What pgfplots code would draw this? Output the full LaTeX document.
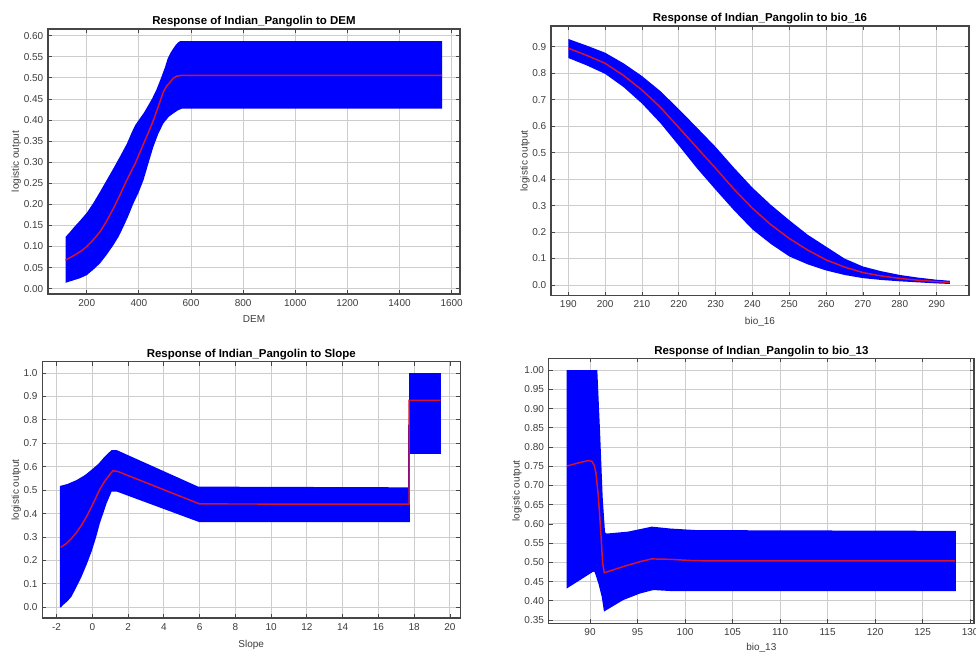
\documentclass[border=0pt]{standalone}
\usepackage{pgfplots}
\pgfplotsset{compat=1.18}
\usepackage{fontspec}
\setmainfont{Liberation Sans}
\definecolor{bandblue}{RGB}{0,0,255}
\definecolor{linered}{RGB}{215,20,45}
\definecolor{framegray}{RGB}{70,70,70}
\definecolor{gridgray}{RGB}{205,205,205}
\definecolor{textgray}{RGB}{60,60,60}
\pgfplotsset{
  resp/.style={
    scale only axis, anchor=south west,
    grid=major, major grid style={draw=gridgray, line width=0.7pt},
    axis line style={draw=framegray, line width=1pt},
    tick style={draw=framegray, line width=0.6pt},
    tick align=inside, major tick length=3pt,
    tick label style={font=\fontsize{7.5}{8}\selectfont, text=textgray},
    xticklabel style={text height=5.5pt, text depth=0pt},
    label style={font=\fontsize{7.5}{8}\selectfont, text=textgray},
    title style={font=\bfseries\fontsize{8.6}{10}\selectfont, at={(0.5,1)}, anchor=south, inner sep=1pt, yshift=-5.8pt},
    ylabel={logistic output},
    ylabel style={yshift=-4.8pt},
    xlabel style={yshift=-0.5pt},
    /pgf/number format/assume math mode=true,
    /pgf/number format/1000 sep={},
    clip=false,
  },
  band/.style={fill=bandblue, draw=none},
  mean/.style={draw=linered, line width=1.1pt, no marks},
}
\begin{document}
\begin{tikzpicture}
\useasboundingbox (0,0) rectangle (732pt,489pt);
% ---------- DEM ----------
\begin{axis}[resp, at={(36pt,268.5pt)}, width=309pt, height=198.75pt,
  xmin=51.4, xmax=1632, ymin=-0.0126, ymax=0.616,
  xtick={200,400,...,1600}, ytick={0,0.05,...,0.61},
  yticklabel style={/pgf/number format/.cd, fixed, fixed zerofill, precision=2},
  title={Response of Indian\_Pangolin to DEM}, xlabel={DEM}]
\addplot[band] coordinates {
 (119,0.123) (135,0.134) (150,0.145) (175,0.162) (200,0.180) (225,0.203) (251,0.230)
 (276,0.257) (302,0.285) (328,0.314) (354,0.344) (372,0.370) (386,0.388)
 (420,0.418) (450,0.450) (466,0.470) (482,0.495) (500,0.525) (510,0.545) (520,0.558)
 (530,0.568) (540,0.577) (550,0.584) (558,0.587) (1563,0.587)
 (1563,0.427) (565,0.427) (550,0.423) (533,0.416) (515,0.408) (494,0.392) (475,0.368)
 (456,0.337) (437,0.298) (418,0.258) (399,0.228) (379,0.202) (360,0.173)
 (341,0.147) (322,0.123) (302,0.103) (276,0.080) (251,0.060) (225,0.045) (200,0.032)
 (175,0.025) (150,0.020) (119,0.014)} -- cycle;
\addplot[mean] coordinates {
 (119,0.068) (140,0.075) (160,0.082) (180,0.090) (200,0.100) (225,0.116) (251,0.135)
 (276,0.160) (302,0.190) (328,0.223) (354,0.258) (386,0.297)
 (418,0.344) (437,0.371) (456,0.400) (475,0.433) (494,0.467) (507,0.481) (520,0.490)
 (532,0.499) (545,0.504) (565,0.506) (1563,0.506)};
\end{axis}
% ---------- bio_16 ----------
\begin{axis}[resp, at={(413.25pt,267.2pt)}, width=313.5pt, height=202.3pt,
  xmin=185.3, xmax=298.8, ymin=-0.0405, ymax=0.979,
  xtick={190,200,...,290}, ytick={0,0.1,...,0.91},
  yticklabel style={/pgf/number format/.cd, fixed, fixed zerofill, precision=1},
  title={Response of Indian\_Pangolin to bio\_16}, xlabel={bio\_16}]
\addplot[band] coordinates {
 (190,0.930) (195,0.905) (200,0.878) (205,0.838) (210,0.790) (215,0.733) (220,0.665)
 (225,0.594) (230,0.522) (235,0.443) (240,0.368) (245,0.303) (250,0.245) (255,0.190)
 (260,0.145) (265,0.100) (270,0.070) (275,0.052) (280,0.038) (285,0.028) (290,0.020) (293.6,0.016)
 (293.6,0.004) (290,0.006) (285,0.010) (280,0.014) (275,0.019) (270,0.026) (265,0.038)
 (260,0.055) (255,0.078) (250,0.108) (245,0.155) (240,0.210) (235,0.282) (230,0.360)
 (225,0.440) (220,0.527) (215,0.612) (210,0.686) (205,0.748) (200,0.798) (195,0.830) (190,0.858)} -- cycle;
\addplot[mean] coordinates {
 (190,0.895) (195,0.868) (200,0.838) (205,0.792) (210,0.737) (215,0.672) (220,0.595)
 (225,0.518) (230,0.441) (235,0.362) (240,0.290) (245,0.228) (250,0.176) (255,0.132)
 (260,0.095) (265,0.068) (270,0.047) (275,0.034) (280,0.025) (285,0.018) (290,0.013) (293.6,0.010)};
\end{axis}
% ---------- Slope ----------
\begin{axis}[resp, at={(31.7pt,25.5pt)}, width=313.5pt, height=192.2pt,
  xmin=-2.8, xmax=20.58, ymin=-0.0457, ymax=1.048,
  xtick={-2,0,...,20}, ytick={0,0.1,...,1.01},
  yticklabel style={/pgf/number format/.cd, fixed, fixed zerofill, precision=1},
  title={Response of Indian\_Pangolin to Slope}, xlabel={Slope}]
\addplot[band] coordinates {
 (-1.81,0.518) (-1.4,0.526) (-0.88,0.543) (-0.4,0.565) (0.05,0.593) (0.35,0.613) (0.61,0.636)
 (0.85,0.655) (1.08,0.671) (1.36,0.671) (5.92,0.515) (17.66,0.512) (17.66,0.78) (17.76,0.78) (17.76,0.363)
 (6.0,0.363) (1.36,0.494) (1.08,0.494) (0.8,0.444) (0.42,0.358) (0.2,0.296) (-0.04,0.238)
 (-0.33,0.180) (-0.6,0.131) (-0.9,0.085) (-1.16,0.046) (-1.4,0.025) (-1.63,0.010) (-1.75,0.0) (-1.81,0.0)} -- cycle;
\addplot[band] coordinates {(17.72,0.653) (17.72,1.0) (19.53,1.0) (19.53,0.653)} -- cycle;
\addplot[mean] coordinates {
 (-1.76,0.256) (-1.46,0.272) (-1.16,0.294) (-0.88,0.320) (-0.6,0.351) (-0.3,0.390) (-0.04,0.430)
 (0.2,0.468) (0.42,0.504) (0.65,0.533) (0.89,0.558) (1.05,0.574) (1.17,0.583)
 (1.45,0.579) (6.0,0.441) (17.72,0.440) (17.72,0.883) (19.48,0.883)};
\end{axis}
% ---------- bio_13 ----------
\begin{axis}[resp, at={(411.5pt,21.5pt)}, width=319pt, height=198.75pt,
  xmin=85.65, xmax=130.4, ymin=0.3414, ymax=1.031,
  xtick={90,95,...,130}, ytick={0.35,0.40,...,1.01},
  yticklabel style={/pgf/number format/.cd, fixed, fixed zerofill, precision=2},
  xlabel style={yshift=1.5pt},
  title={Response of Indian\_Pangolin to bio\_13}, xlabel={bio\_13}]
\addplot[band] coordinates {
 (87.55,1.0) (90.77,1.0) (91.05,0.845) (91.33,0.671) (91.58,0.578) (91.75,0.575) (94,0.580)
 (96.5,0.593) (98.5,0.588) (101.2,0.584) (128.5,0.582)
 (128.5,0.425) (98.77,0.425) (96.66,0.428) (95.26,0.419) (93.5,0.402) (91.47,0.372)
 (91.23,0.411) (90.88,0.445) (90.5,0.474) (90.35,0.476) (87.55,0.432)} -- cycle;
\addplot[mean] coordinates {
 (87.6,0.751) (88.95,0.760) (89.82,0.765) (90.2,0.763) (90.45,0.752) (90.63,0.732) (90.88,0.671)
 (91.12,0.584) (91.33,0.498) (91.5,0.473) (93.5,0.489) (95.26,0.502) (96.5,0.509)
 (98.4,0.508) (100.5,0.505) (101.9,0.504) (128.4,0.504)};
\end{axis}
\end{tikzpicture}
\end{document}
